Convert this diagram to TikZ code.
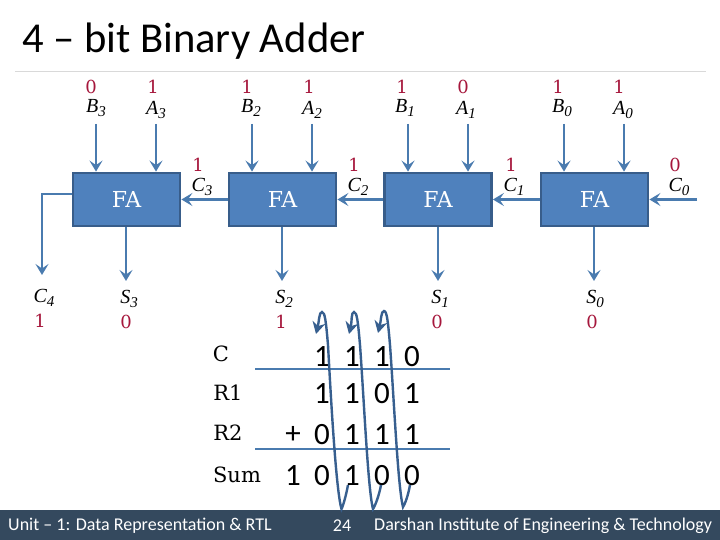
\documentclass[tikz,border=0pt]{standalone}
\usepackage{fontspec}
\setmainfont{Liberation Serif}
\newfontfamily\calib{Carlito}
\newfontfamily\dserif{DejaVu Serif}
\usetikzlibrary{arrows.meta}
\definecolor{wire}{HTML}{4A7BAF}
\definecolor{boxfill}{HTML}{4F81BD}
\definecolor{boxline}{HTML}{385D8A}
\definecolor{valred}{HTML}{A6173C}
\definecolor{barcol}{HTML}{34495E}
\definecolor{loopcol}{HTML}{375F8F}
\definecolor{rulecol}{HTML}{D9D9D9}
\newcommand{\sig}[2]{{\fontsize{20}{20}\selectfont\itshape #1\raisebox{-3.5pt}{\fontsize{15}{15}\selectfont #2}}}
\tikzset{
  fabox/.style={draw=boxline,fill=boxfill,line width=2.8pt,minimum width=107pt,minimum height=53pt,inner sep=0pt,text=white,font=\dserif\fontsize{22}{22}\selectfont},
  val/.style={text=valred,inner sep=0pt,font=\dserif\fontsize{18}{18}\selectfont},
  sg/.style={inner sep=0pt,text=black},
  wirearrow/.style={draw=wire,line width=2.1pt,-{Stealth[length=11pt,width=13pt,inset=4.5pt]}},
  rowlab/.style={inner sep=0pt,font=\dserif\fontsize{21}{21}\selectfont},
  dig/.style={inner sep=0pt,font=\calib\fontsize{31}{31}\selectfont},
  sumline/.style={draw=wire,line width=2.6pt},
  looparrow/.style={draw=loopcol,line width=2.4pt,-{Stealth[length=12pt,width=13pt,inset=4pt]}},
  foot/.style={text=white,inner sep=0pt,font=\calib\fontsize{18}{18}\selectfont}
}
\begin{document}
\begin{tikzpicture}[x=1pt,y=-1pt]
\useasboundingbox (0,0) rectangle (720,540);
\fill[white] (0,0) rectangle (720,540);
% title and rule
\node[anchor=west,inner sep=0pt,font=\calib\fontsize{42.6}{43}\selectfont] (title) at (22,41) {4 – bit Binary Adder};
\coordinate (ruleL) at (15,72); \coordinate (ruleR) at (706,72);
\draw[rulecol,line width=1pt] (ruleL) -- (ruleR);
% footer
\fill[barcol] (0,510) rectangle (720,540);
\node[foot,anchor=west] (f1) at (8,525.5) {Unit – 1: Data Representation \& RTL};
\node[foot,anchor=center] (f2) at (342,525.5) {24};
\node[foot,anchor=west] (f3) at (374,525.5) {Darshan Institute of Engineering \& Technology};
% boxes
\node[fabox] (fa3) at (126.5,199.5) {FA};
\node[fabox] (fa2) at (282.5,199.5) {FA};
\node[fabox] (fa1) at (438,199.5) {FA};
\node[fabox] (fa0) at (594.5,199.5) {FA};
% top labels
\node[val] (v1) at (91,87) {0};   \node[sg] (b3) at (96,108) {\sig{B}{3}};
\node[val] (v2) at (153,87) {1};  \node[sg] (a3) at (156,110) {\sig{A}{3}};
\node[val] (v3) at (247,87) {1};  \node[sg] (b2) at (251,108) {\sig{B}{2}};
\node[val] (v4) at (309,87) {1};  \node[sg] (a2) at (312,110) {\sig{A}{2}};
\node[val] (v5) at (402,87) {1};  \node[sg] (b1) at (405,108) {\sig{B}{1}};
\node[val] (v6) at (463,87) {0};  \node[sg] (a1) at (466,110) {\sig{A}{1}};
\node[val] (v7) at (558,87) {1};  \node[sg] (b0) at (562,108) {\sig{B}{0}};
\node[val] (v8) at (619,87) {1};  \node[sg] (a0) at (623,110) {\sig{A}{0}};
% carry labels
\node[val] (v9) at (198,165) {1};  \node[sg] (c3) at (202,187) {\sig{C}{3}};
\node[val] (v10) at (354,165) {1}; \node[sg] (c2) at (358,187) {\sig{C}{2}};
\node[val] (v11) at (511,165) {1}; \node[sg] (c1) at (514,187) {\sig{C}{1}};
\node[val] (v12) at (675,165) {0}; \node[sg] (c0) at (679,187) {\sig{C}{0}};
% bottom labels
\node[sg] (c4) at (44,298) {\sig{C}{4}};  \node[val] (v13) at (40,321) {1};
\node[sg] (s3) at (129,299) {\sig{S}{3}}; \node[val] (v14) at (126,322) {0};
\node[sg] (s2) at (284,299) {\sig{S}{2}}; \node[val] (v15) at (281,322) {1};
\node[sg] (s1) at (440,299) {\sig{S}{1}}; \node[val] (v16) at (437,322) {0};
\node[sg] (s0) at (595,299) {\sig{S}{0}}; \node[val] (v17) at (592,322) {0};
% connector free ends
\foreach \n/\x in {tb3/96,ta3/156,tb2/252,ta2/312,tb1/408,ta1/468,tb0/564,ta0/624}
  \coordinate (\n) at (\x,124);
\foreach \n/\x in {es3/126,es2/282,es1/438,es0/594}
  \coordinate (\n) at (\x,281);
\coordinate (c0in) at (697,199.5);
\coordinate (c4out) at (42,275);
\coordinate (c4bend) at (42,194);
% inputs
\draw[wirearrow] (tb3) -- (tb3 |- fa3.north);
\draw[wirearrow] (ta3) -- (ta3 |- fa3.north);
\draw[wirearrow] (tb2) -- (tb2 |- fa2.north);
\draw[wirearrow] (ta2) -- (ta2 |- fa2.north);
\draw[wirearrow] (tb1) -- (tb1 |- fa1.north);
\draw[wirearrow] (ta1) -- (ta1 |- fa1.north);
\draw[wirearrow] (tb0) -- (tb0 |- fa0.north);
\draw[wirearrow] (ta0) -- (ta0 |- fa0.north);
% sums
\draw[wirearrow] (es3 |- fa3.south) -- (es3);
\draw[wirearrow] (es2 |- fa2.south) -- (es2);
\draw[wirearrow] (es1 |- fa1.south) -- (es1);
\draw[wirearrow] (es0 |- fa0.south) -- (es0);
% carries
\draw[wirearrow] (fa2.west) -- (fa3.east);
\draw[wirearrow] (fa1.west) -- (fa2.east);
\draw[wirearrow] (fa0.west) -- (fa1.east);
\draw[wirearrow] (c0in) -- (fa0.east);
\draw[wirearrow] (c4bend -| fa3.west) -- (c4bend) -- (c4out);
% table
\node[rowlab] (rc) at (221,354) {C};
\node[rowlab] (rr1) at (228,393) {R1};
\node[rowlab] (rr2) at (228,433) {R2};
\node[rowlab] (rs) at (237,475) {Sum};
\node[dig] (d11) at (322,357) {1}; \node[dig] (d12) at (352,357) {1}; \node[dig] (d13) at (382,357) {1}; \node[dig] (d14) at (412,357) {0};
\node[dig] (d21) at (322,394) {1}; \node[dig] (d22) at (352,394) {1}; \node[dig] (d23) at (382,394) {0}; \node[dig] (d24) at (412,394) {1};
\node[dig] (dplus) at (293,435) {+};
\node[dig] (d31) at (322,435) {0}; \node[dig] (d32) at (352,435) {1}; \node[dig] (d33) at (382,435) {1}; \node[dig] (d34) at (412,435) {1};
\node[dig] (d40) at (293,476) {1}; \node[dig] (d41) at (322,476) {0}; \node[dig] (d42) at (352,476) {1}; \node[dig] (d43) at (382,476) {0}; \node[dig] (d44) at (412,476) {0};
\coordinate (l1a) at (255,369); \coordinate (l1b) at (450,369);
\coordinate (l2a) at (255,449); \coordinate (l2b) at (450,449);
\draw[sumline] (l1a) -- (l1b);
\draw[sumline] (l2a) -- (l2b);
% carry loops
\coordinate (p1) at (348,485); \coordinate (q1) at (341.5,509); \coordinate (t1) at (322,312); \coordinate (e1) at (316,334);
\coordinate (p2) at (381,485); \coordinate (q2) at (373,509);   \coordinate (t2) at (354,312); \coordinate (e2) at (349,334);
\coordinate (p3) at (410,485); \coordinate (q3) at (403,507);   \coordinate (t3) at (384,311); \coordinate (e3) at (378,333);
\draw[looparrow] (p1) .. controls (346,496) and (343,506) .. (q1) .. controls (336,490) and (331,400) .. (328,345) .. controls (326,322) and (325,312) .. (t1) .. controls (319,312) and (319,322) .. (e1);
\draw[looparrow] (p2) .. controls (379,496) and (375,506) .. (q2) .. controls (368,490) and (364,400) .. (360,345) .. controls (358,322) and (357,312) .. (t2) .. controls (351,312) and (352,322) .. (e2);
\draw[looparrow] (p3) .. controls (408,496) and (405,504) .. (q3) .. controls (398,488) and (394,400) .. (390,345) .. controls (388,322) and (387,311) .. (t3) .. controls (381,311) and (381,321) .. (e3);
\end{tikzpicture}
\end{document}
